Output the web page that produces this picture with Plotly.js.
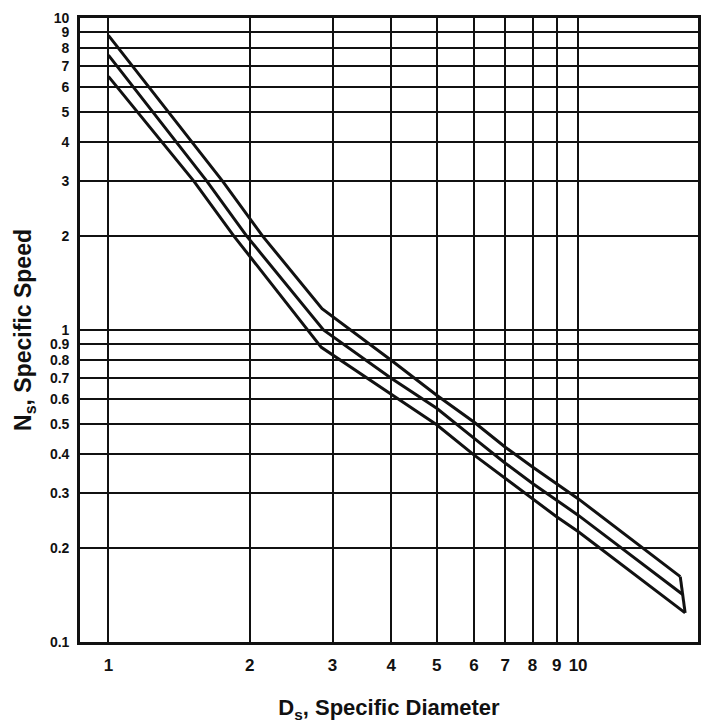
<!DOCTYPE html>
<html>
<head>
<meta charset="utf-8">
<script src="https://cdn.plot.ly/plotly-3.0.1.min.js"></script>
<style>
  html, body { margin: 0; padding: 0; background: #ffffff; }
  #chart { width: 720px; height: 727px; }
</style>
</head>
<body>
<div id="chart"></div>
<script>
// ---- Data ----
const xTickVals = [1, 2, 3, 4, 5, 6, 7, 8, 9, 10];
const xTickText = ['1', '2', '3', '4', '5', '6', '7', '8', '9', '10'];
const yTickVals = [0.1, 0.2, 0.3, 0.4, 0.5, 0.6, 0.7, 0.8, 0.9, 1, 2, 3, 4, 5, 6, 7, 8, 9, 10];
const yTickText = ['0.1', '0.2', '0.3', '0.4', '0.5', '0.6', '0.7', '0.8', '0.9', '1', '2', '3', '4', '5', '6', '7', '8', '9', '10'];

// Upper boundary curve
const upperX = [1.0, 1.75, 2.13, 2.85, 4, 5, 6, 7, 8, 9, 10, 16.5];
const upperY = [8.8, 3.0, 2.0, 1.17, 0.80, 0.618, 0.507, 0.421, 0.364, 0.321, 0.288, 0.162];
// Middle curve
const middleX = [1.0, 1.62, 1.97, 2.87, 4, 5, 6, 7, 8, 9, 10, 16.7];
const middleY = [7.6, 3.0, 2.0, 1.0, 0.701, 0.561, 0.450, 0.374, 0.322, 0.285, 0.255, 0.142];
// Lower boundary curve
const lowerX = [1.0, 1.52, 1.85, 2.84, 4, 5, 6, 7, 8, 9, 10, 16.9];
const lowerY = [6.5, 3.0, 2.0, 0.88, 0.622, 0.497, 0.398, 0.335, 0.289, 0.252, 0.226, 0.124];

const xTitle = '<b>D<sub>s</sub>, Specific Diameter</b>';
const yTitle = '<b>N<sub>s</sub>, Specific Speed</b>';

// ---- Chart ----
const ink = '#111111';
const lineStyle = { color: ink, width: 3 };
const fontFamily = 'Liberation Sans, Arial, sans-serif';

const traces = [
  { x: upperX, y: upperY, mode: 'lines', line: lineStyle, hoverinfo: 'skip' },
  { x: middleX, y: middleY, mode: 'lines', line: lineStyle, hoverinfo: 'skip' },
  { x: lowerX, y: lowerY, mode: 'lines', line: lineStyle, hoverinfo: 'skip' },
  {
    x: [upperX[upperX.length - 1], middleX[middleX.length - 1], lowerX[lowerX.length - 1]],
    y: [upperY[upperY.length - 1], middleY[middleY.length - 1], lowerY[lowerY.length - 1]],
    mode: 'lines', line: lineStyle, hoverinfo: 'skip'
  }
];

const layout = {
  width: 720,
  height: 727,
  margin: { l: 80, r: 22, t: 18, b: 85 },
  paper_bgcolor: '#ffffff',
  plot_bgcolor: '#ffffff',
  showlegend: false,
  xaxis: {
    type: 'log',
    range: [Math.log10(0.87), Math.log10(18)],
    tickmode: 'array',
    tickvals: xTickVals,
    ticktext: xTickText.map(t => '<b>' + t + '</b>'),
    ticks: '',
    ticklabelstandoff: 6,
    tickfont: { family: fontFamily, size: 17, color: ink },
    showgrid: true,
    gridcolor: ink,
    gridwidth: 2,
    showline: true,
    linecolor: ink,
    linewidth: 2.8,
    mirror: true,
    zeroline: false,
    fixedrange: true,
    automargin: false,
    title: { text: xTitle, font: { family: fontFamily, size: 22, color: ink }, standoff: 26 }
  },
  yaxis: {
    type: 'log',
    range: [-1, 1],
    tickmode: 'array',
    tickvals: yTickVals,
    ticktext: yTickText.map(t => '<b>' + t + '</b>'),
    ticks: '',
    ticklabelstandoff: 5,
    tickfont: { family: fontFamily, size: 14, color: ink },
    showgrid: true,
    gridcolor: ink,
    gridwidth: 2,
    showline: true,
    linecolor: ink,
    linewidth: 2.8,
    mirror: true,
    zeroline: false,
    fixedrange: true,
    automargin: false,
    title: { text: yTitle, font: { family: fontFamily, size: 23, color: ink }, standoff: 12 }
  }
};

Plotly.newPlot('chart', traces, layout, { displayModeBar: false, staticPlot: true });
</script>
</body>
</html>
